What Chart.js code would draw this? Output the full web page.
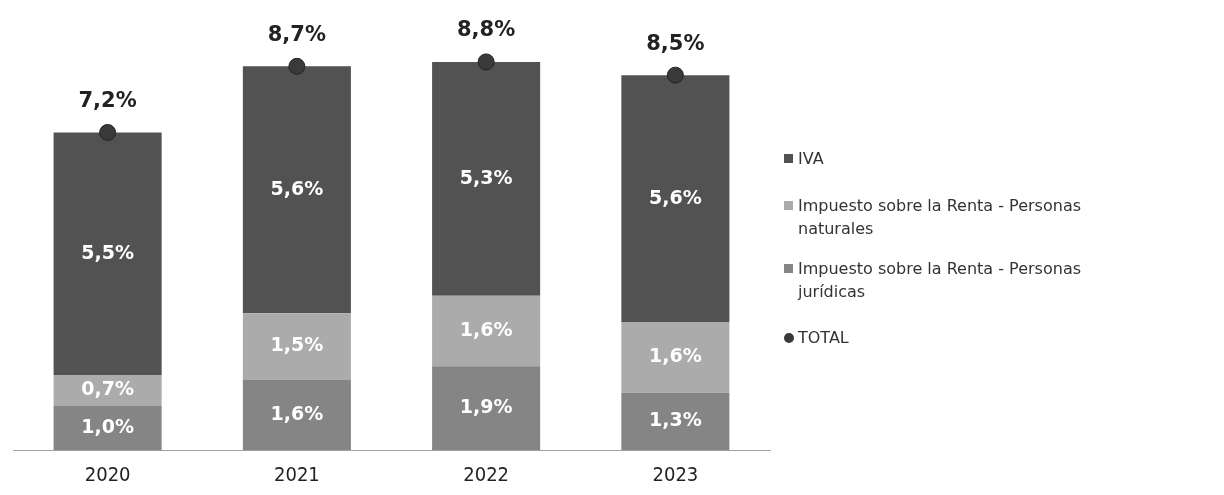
<!DOCTYPE html>
<html>
<head>
<meta charset="utf-8">
<script src="https://cdn.jsdelivr.net/npm/chart.js@4/dist/chart.umd.min.js"></script>
<style>
  html,body{margin:0;padding:0;background:#fff;}
  #wrap{position:relative;width:1224px;height:495px;}
  #legend{position:absolute;left:784px;top:0;font-family:"DejaVu Sans",Verdana,sans-serif;font-size:16px;color:#333;}
  .item{position:absolute;left:0;width:440px;line-height:23px;padding-left:14px;white-space:nowrap;}
  .sw{position:absolute;left:0;top:7px;width:9px;height:9px;}
  .dot{border-radius:50%;width:10px;height:10px;}
</style>
</head>
<body>
<div id="wrap">
  <canvas id="c" width="1224" height="495"></canvas>
  <div id="legend"></div>
</div>
<script>
const categories = ["2020", "2021", "2022", "2023"];
const juridicas = [1.0, 1.6, 1.9, 1.3];
const naturales = [0.7, 1.5, 1.6, 1.6];
const iva = [5.5, 5.6, 5.3, 5.6];
const total = [7.2, 8.7, 8.8, 8.5];
const seriesNames = ["IVA", "Impuesto sobre la Renta - Personas naturales", "Impuesto sobre la Renta - Personas jurídicas", "TOTAL"];

const colIva = "#525252", colNat = "#ababab", colJur = "#858585", colTot = "#3a3a3a";
const fmt = v => v.toFixed(1).replace(".", ",") + "%";

const labelPlugin = {
  id: "labels",
  afterDatasetsDraw(chart) {
    const ctx = chart.ctx;
    ctx.save();
    ctx.textAlign = "center";
    ctx.textBaseline = "middle";
    chart.data.datasets.forEach((ds, i) => {
      const meta = chart.getDatasetMeta(i);
      meta.data.forEach((el, j) => {
        const v = ds.data[j];
        if (ds.type === "line") {
          ctx.font = "bold 21px 'DejaVu Sans', Verdana, sans-serif";
          ctx.fillStyle = "#222";
          ctx.fillText(fmt(v), el.x, el.y - 31);
        } else {
          ctx.font = "bold 19px 'DejaVu Sans', Verdana, sans-serif";
          ctx.fillStyle = "#ffffff";
          ctx.fillText(fmt(v), el.x, (el.y + el.base) / 2);
        }
      });
    });
    ctx.restore();
  }
};

new Chart(document.getElementById("c"), {
  data: {
    labels: categories,
    datasets: [
      { type: "bar", label: seriesNames[2], data: juridicas, backgroundColor: colJur, stack: "s", order: 2 },
      { type: "bar", label: seriesNames[1], data: naturales, backgroundColor: colNat, stack: "s", order: 2 },
      { type: "bar", label: seriesNames[0], data: iva, backgroundColor: colIva, stack: "s", order: 2 },
      { type: "line", label: seriesNames[3], data: total, showLine: false, stack: "t", order: 1,
        pointRadius: 8, pointHoverRadius: 8, pointBackgroundColor: colTot, pointBorderColor: "#222", pointBorderWidth: 1 }
    ]
  },
  options: {
    responsive: false,
    animation: false,
    layout: { padding: { left: 13, right: 454, top: 3, bottom: 0 } },
    datasets: { bar: { categoryPercentage: 1, barPercentage: 0.571 } },
    plugins: { legend: { display: false }, tooltip: { enabled: false } },
    scales: {
      x: {
        stacked: true,
        grid: { display: false, drawTicks: false },
        border: { display: true, color: "#a0a0a0", width: 1 },
        ticks: { color: "#222", padding: 14, font: { family: "'DejaVu Sans Condensed', 'DejaVu Sans', sans-serif", size: 20 } },
        afterFit(scale) { scale.height = 45; }
      },
      y: {
        stacked: true, display: false, min: 0, max: 10
      }
    }
  },
  plugins: [labelPlugin]
});

const legend = document.getElementById("legend");
const items = [
  { text: seriesNames[0], color: colIva, top: 147, dot: false },
  { text: "Impuesto sobre la Renta - Personas<br>naturales", color: colNat, top: 194, dot: false },
  { text: "Impuesto sobre la Renta - Personas<br>jurídicas", color: colJur, top: 257, dot: false },
  { text: seriesNames[3], color: colTot, top: 326, dot: true }
];
items.forEach(it => {
  const d = document.createElement("div");
  d.className = "item";
  d.style.top = it.top + "px";
  d.innerHTML = '<span class="sw' + (it.dot ? ' dot' : '') + '" style="background:' + it.color + '"></span>' + it.text;
  legend.appendChild(d);
});
</script>
</body>
</html>
